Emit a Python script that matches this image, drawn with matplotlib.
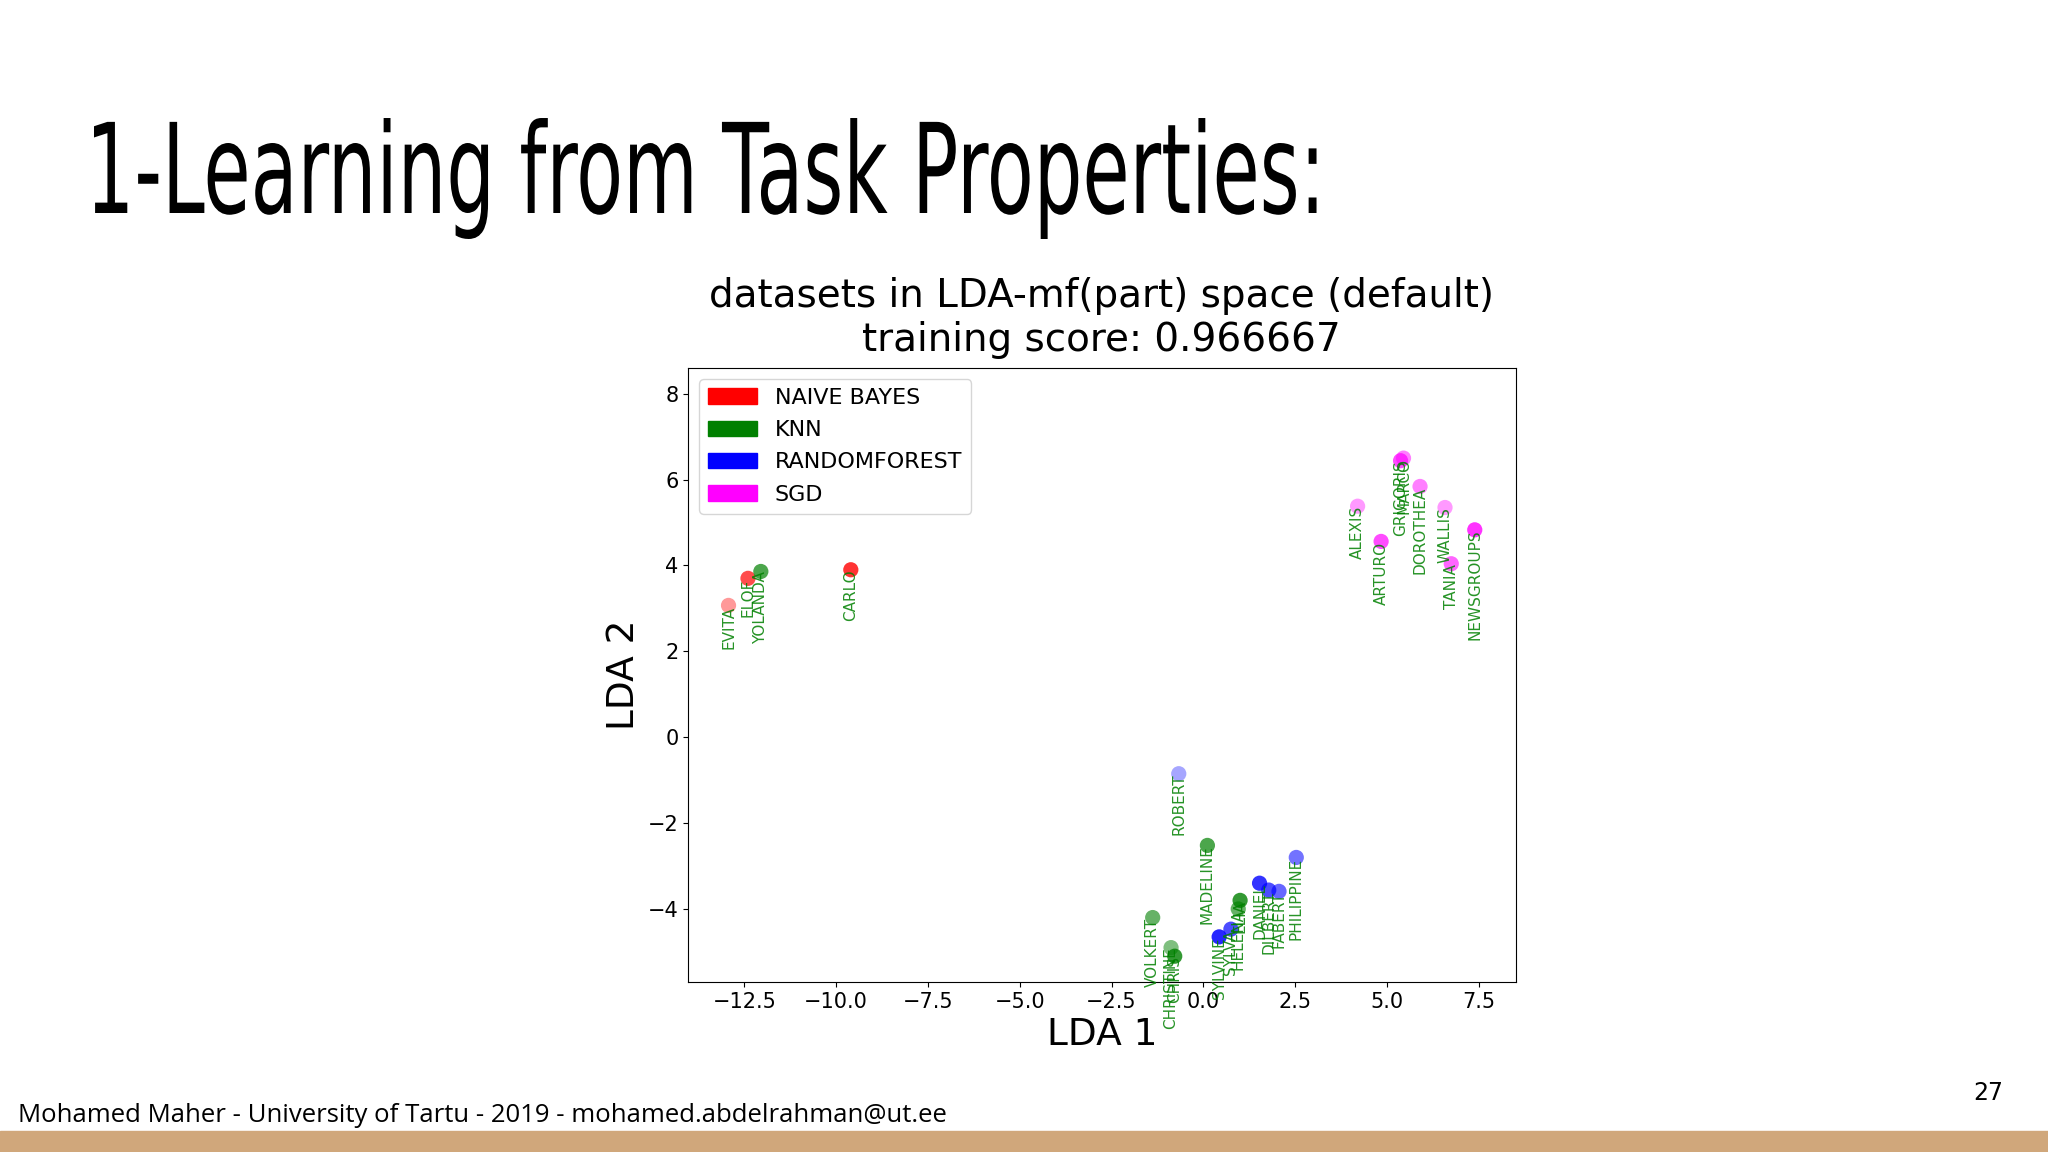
import matplotlib
matplotlib.use("Agg")
import matplotlib.pyplot as plt
from matplotlib.patches import Patch, Rectangle, PathPatch
from matplotlib.textpath import TextPath
from matplotlib.font_manager import FontProperties
from matplotlib.transforms import Affine2D

names = ["EVITA","ELOF","YOLANDA","CARLO","ALEXIS","ARTURO","GRIGORIS","MARCO","DOROTHEA","WALLIS","TANIA",
         "NEWSGROUPS","ROBERT","MADELINE","PHILIPPINE","VOLKERT","CHRISTINE","CHRIS","SYLVINE","SYLVA",
         "ELIA","HELENA","DANIEL","DILBERT","FABERT"]
lda1 = [-12.93,-12.4,-12.05,-9.6,4.2,4.84,5.37,5.45,5.9,6.58,6.75,
        7.39,-0.67,0.11,2.53,-1.38,-0.88,-0.78,0.43,0.75,
        1.0,0.95,1.53,1.78,2.06]
lda2 = [3.07,3.7,3.86,3.9,5.38,4.56,6.44,6.5,5.84,5.35,4.04,
        4.83,-0.85,-2.52,-2.8,-4.2,-4.9,-5.1,-4.65,-4.47,
        -3.8,-4.0,-3.4,-3.56,-3.59]
best = ["NB","NB","KNN","NB","SGD","SGD","SGD","SGD","SGD","SGD","SGD",
        "SGD","RF","KNN","RF","KNN","KNN","KNN","RF","RF",
        "KNN","KNN","RF","RF","RF"]
alphas = [0.4,0.7,0.7,0.8,0.4,0.7,0.7,0.5,0.5,0.4,0.6,
          0.8,0.35,0.7,0.55,0.6,0.5,0.8,0.85,0.7,
          0.8,0.6,0.8,0.7,0.6]
legend_labels = ["NAIVE BAYES","KNN","RANDOMFOREST","SGD"]
legend_keys = ["NB","KNN","RF","SGD"]
cmap = {"NB":"red","KNN":"green","RF":"blue","SGD":"magenta"}

W, H = 2048, 1152
fig = plt.figure(figsize=(20.48,11.52), dpi=100)
fig.patch.set_facecolor("white")

# condensed slide title: scale a text path horizontally
tp = TextPath((0, 0), "1-Learning from Task Properties:", size=125,
              prop=FontProperties(family="DejaVu Sans"))
ext = tp.get_extents()
target_w = (1008 - 72) * W / 1568
sx = target_w / ext.width
tr = Affine2D().scale(sx, 1.0).translate(94 - ext.x0 * sx, H - 213) + Affine2D().scale(1 / W, 1 / H) + fig.transFigure
fig.patches.append(PathPatch(tp, transform=tr, color="black", lw=0))

ax = fig.add_axes([0.336, 0.1476, 0.404, 0.533])
for x, y, c, a, n in zip(lda1, lda2, best, alphas, names):
    ax.scatter(x, y, s=120, color=cmap[c], alpha=a, edgecolors="none", zorder=2)
    ax.text(x, y, n, rotation=90, ha="center", va="top", fontsize=11, color="green", alpha=0.85, zorder=3)
ax.set_xlim(-14.03, 8.5)
ax.set_ylim(-5.7, 8.6)
ax.set_xticks([-12.5,-10,-7.5,-5,-2.5,0,2.5,5,7.5])
ax.set_yticks([-4,-2,0,2,4,6,8])
ax.tick_params(labelsize=15)
ax.set_xlabel("LDA 1", fontsize=27)
ax.set_ylabel("LDA 2", fontsize=27)
ax.set_title("datasets in LDA-mf(part) space (default)\ntraining score: 0.966667", fontsize=28, pad=12)
handles = [Patch(color=cmap[k]) for k in legend_keys]
ax.legend(handles, legend_labels, loc="upper left", fontsize=16, handlelength=2.2, labelspacing=0.55)

fig.text(0.009, 0.026, "Mohamed Maher - University of Tartu - 2019 - mohamed.abdelrahman@ut.ee",
         fontsize=18.5, family=["Open Sans","DejaVu Sans"], va="baseline")
fig.text(0.978, 0.045, "27", fontsize=17, family=["DejaVu Sans"], ha="right")
fig.patches.append(Rectangle((0,0), 1, 0.018, transform=fig.transFigure, color="#D0A77B"))

fig.savefig("out.png", dpi=100)
